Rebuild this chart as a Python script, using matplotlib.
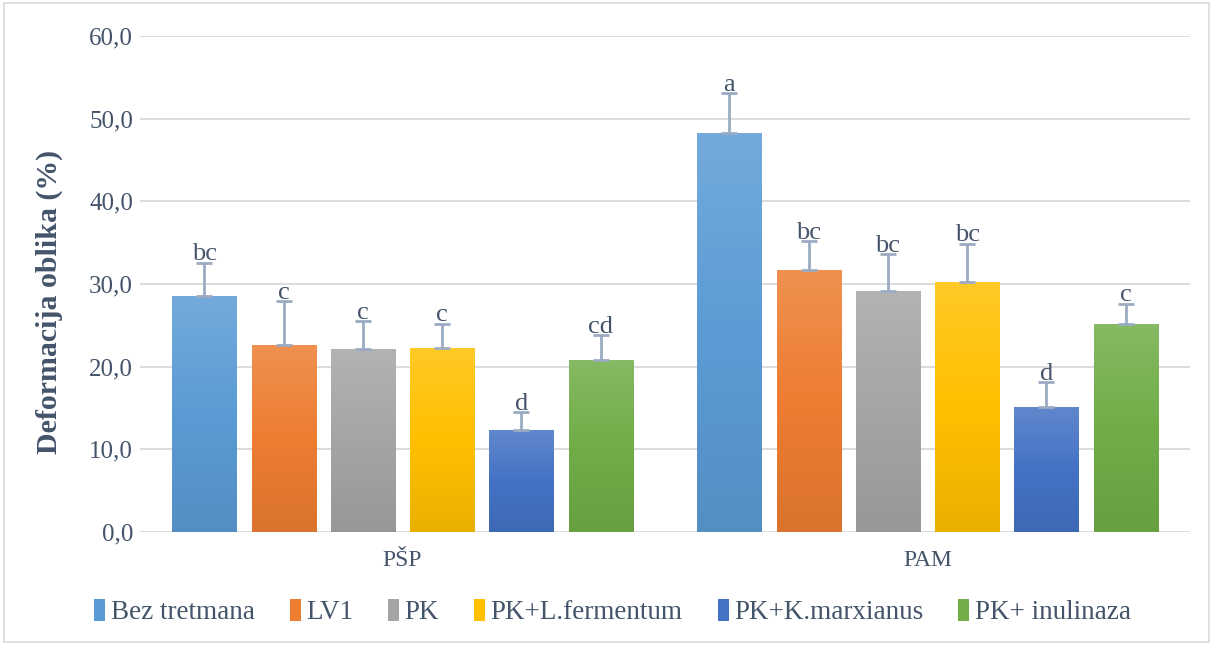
import numpy as np
import matplotlib.pyplot as plt
from matplotlib.colors import LinearSegmentedColormap, to_rgb
from matplotlib.patches import Rectangle

plt.rcParams['font.family'] = ['Liberation Serif', 'DejaVu Serif']

groups = ["PŠP", "PAM"]
series = ["Bez tretmana", "LV1", "PK", "PK+L.fermentum", "PK+K.marxianus", "PK+ inulinaza"]
values = {
    "PŠP": [28.6, 22.6, 22.1, 22.3, 12.3, 20.8],
    "PAM": [48.3, 31.7, 29.2, 30.2, 15.1, 25.2],
}
errors = {
    "PŠP": [4.0, 5.3, 3.4, 2.9, 2.2, 3.0],
    "PAM": [4.8, 3.5, 4.4, 4.7, 3.0, 2.4],
}
letters = {
    "PŠP": ["bc", "c", "c", "c", "d", "cd"],
    "PAM": ["a", "bc", "bc", "bc", "d", "c"],
}
colors = ["#5B9BD5", "#ED7D31", "#A5A5A5", "#FFC000", "#4472C4", "#70AD47"]

txt = "#44546A"

fig = plt.figure(figsize=(12.13, 6.45), dpi=100)
fig.patches.append(Rectangle((0.003, 0.004), 0.994, 0.992, transform=fig.transFigure,
                             fill=False, edgecolor="#D9D9D9", linewidth=1.2))
ax = fig.add_axes([0.1154, 0.1752, 0.8656, 0.7688])

step = 0.151
width = 0.122
x = np.arange(len(groups))


def lighten(c, f):
    r = np.array(to_rgb(c))
    return tuple(r + (1 - r) * f)


def darken(c, f):
    r = np.array(to_rgb(c))
    return tuple(r * (1 - f))


for i, s in enumerate(series):
    vals = [values[g][i] for g in groups]
    errs = [errors[g][i] for g in groups]
    pos = x + (i - 2.5) * step
    bars = ax.bar(pos, vals, width, color=colors[i], label=s, zorder=2)
    cmap = LinearSegmentedColormap.from_list("g", [darken(colors[i], 0.08), colors[i], lighten(colors[i], 0.15)])
    for b in bars:
        bx, bw, bh = b.get_x(), b.get_width(), b.get_height()
        grad = np.linspace(0, 1, 100).reshape(-1, 1)
        im = ax.imshow(grad, cmap=cmap, origin="lower", aspect="auto",
                       extent=(bx, bx + bw, 0, bh), zorder=2.5)
        im.set_clip_path(b)
    ax.errorbar(pos, vals, yerr=[np.zeros(len(errs)), errs], fmt="none",
                ecolor="#9AABC2", elinewidth=2, capsize=6, capthick=2, zorder=3)
    for p, v, e, g in zip(pos, vals, errs, groups):
        ax.text(p, v + e - 0.3, letters[g][i], ha="center", va="bottom",
                fontsize=19, color=txt, zorder=4)

ax.set_xlim(-0.5, 1.5)
ax.set_ylim(0, 60)
ax.set_yticks(np.arange(0, 61, 10))
ax.set_yticklabels([f"{v:.1f}".replace(".", ",") for v in np.arange(0, 61, 10)])
ax.set_xticks(x)
ax.set_xticklabels(groups)
ax.tick_params(axis="both", length=0, labelsize=18, labelcolor=txt)
ax.tick_params(axis="y", pad=5)
ax.tick_params(axis="x", labelsize=17, pad=13)
ax.yaxis.grid(True, color="#D9D9D9", linewidth=1.3)
ax.set_axisbelow(True)
for sp in ax.spines.values():
    sp.set_visible(False)
ax.set_ylabel("Deformacija oblika (%)", fontsize=21.5, fontweight="bold", color=txt)
ax.yaxis.set_label_coords(-0.073, 0.464)

fig.legend(loc="center", bbox_to_anchor=(0.505, 0.051), ncol=6, frameon=False,
           fontsize=19.5, handlelength=0.4, handleheight=0.9, handletextpad=0.2,
           columnspacing=1.3, labelcolor=txt)

fig.savefig("out.png", dpi=100)
